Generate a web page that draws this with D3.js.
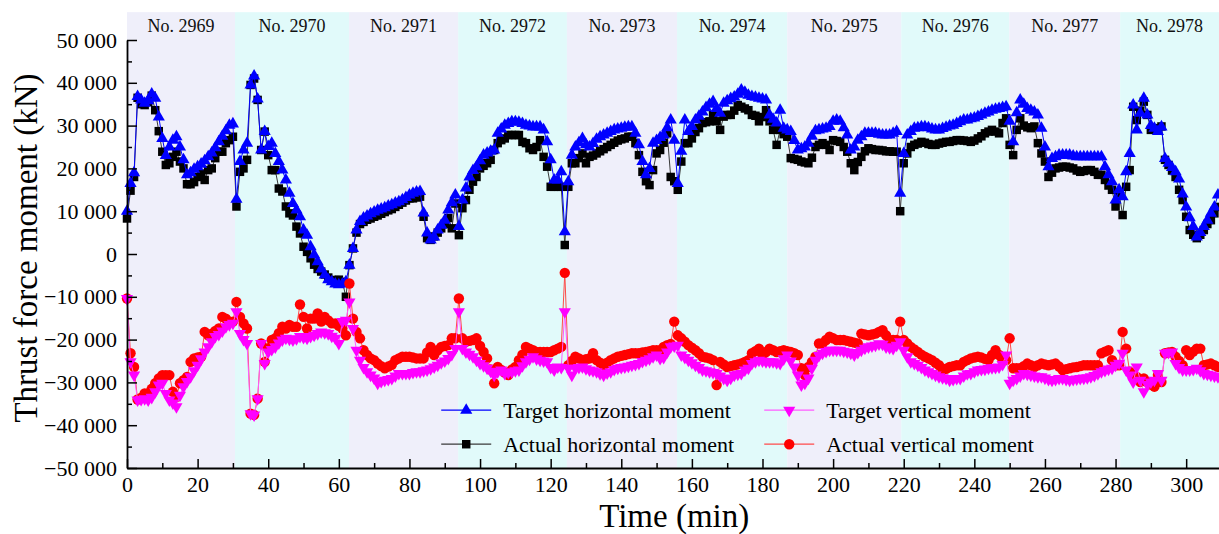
<!DOCTYPE html>
<html>
<head>
<meta charset="utf-8">
<script src="https://cdn.jsdelivr.net/npm/d3@7"></script>
<style>
    body { margin: 0; background: #fff; }
    svg { display: block; font-family: "Liberation Serif", "Times New Roman", serif; }
</style>
</head>
<body>
<div id="chart"></div>
<script>
// Ring numbers and where each ring starts (min)
const ringLabels = ['No. 2969', 'No. 2970', 'No. 2971', 'No. 2972', 'No. 2973', 'No. 2974', 'No. 2975', 'No. 2976', 'No. 2977', 'No. 2978'];
const ringStarts = [0, 30.6, 62.9, 93.8, 124.6, 155.8, 187, 219.3, 249.9, 281.3];
const timeEnd = 309.3;

// One sample per minute, starting at 0 min (kN)
const targetHorizontal = [
    10000, 16500, 19000, 36800, 36000, 35200, 35800, 37400, 36400, 32000,
    27000, 23000, 25000, 26600, 27400, 25000, 22000, 18500, 19000, 19800,
    20400, 21000, 21800, 22700, 23600, 24800, 26200, 27500, 28800, 30100,
    30400, 12800, 21600, 24300, 25900, 39500, 41600, 36200, 24300, 28600,
    25100, 25900, 23500, 21600, 19600, 17300, 14200, 11800, 10300, 8700,
    5600, 4400, 1700, -200, -1800, -3500, -4900, -6000, -6500, -7000,
    -7200, -7000, -6500, -2600, 1300, 5600, 7600, 8400, 8900, 9400,
    9800, 10200, 10500, 10800, 11200, 11500, 11900, 12200, 12700, 13200,
    13800, 14200, 14500, 14600, 9600, 4900, 3300, 4000, 5600, 6700,
    7900, 10300, 12000, 13800, 6400, 12600, 15400, 18000, 19500, 20400,
    21800, 23100, 23600, 24000, 24300, 28200, 29200, 30100, 30500, 30900,
    30900, 30800, 30500, 30100, 29900, 29700, 29700, 29700, 29000, 26200,
    22000, 17300, 17300, 19200, 5200, 16900, 23100, 25000, 26000, 27000,
    25500, 25000, 25800, 26800, 27400, 27800, 28200, 28600, 29000, 29200,
    29400, 29600, 29700, 29700, 28200, 25500, 21600, 18500, 20000, 25900,
    26500, 27200, 27800, 29500, 31300, 26600, 16500, 24000, 31300, 28600,
    29800, 31300, 32200, 33200, 34200, 35000, 35600, 34000, 32900, 35200,
    35800, 36300, 36700, 37300, 38300, 37800, 37100, 36800, 36600, 36400,
    36200, 36000, 32500, 31500, 30600, 33600, 29400, 29000, 28600, 26500,
    24300, 24600, 25000, 25900, 27500, 28800, 29000, 29200, 29400, 29800,
    31000, 31300, 31000, 29500, 27800, 24300, 25000, 26600, 27400, 28200,
    28200, 28200, 28200, 28000, 27800, 27800, 27800, 28200, 28600, 14200,
    23500, 27800, 28600, 29400, 29500, 29700, 29700, 29500, 29200, 29000,
    29000, 29300, 29600, 29900, 30100, 30500, 30900, 31300, 31300, 31600,
    31800, 32100, 32500, 32900, 33200, 33600, 33800, 34000, 34200, 34400,
    31000, 26200, 33000, 36000, 35000, 34000, 33600, 33200, 32500, 29400,
    25000, 20400, 22300, 22700, 23100, 23100, 23100, 23100, 22900, 22700,
    22700, 22700, 22700, 22700, 22700, 22700, 22700, 20400, 18500, 16900,
    12600, 15000, 13400, 19200, 23500, 34800, 29000, 32900, 36400, 32500,
    30000, 29400, 28600, 29700, 22300, 21200, 20200, 19200, 17500, 14000,
    11000, 8500, 6400, 4000, 5000, 6400, 7900, 9500, 11000, 13800
];

const actualHorizontal = [
    8300, 14800, 18000, 36500, 35000, 34800, 35500, 37000, 33600, 28700,
    23900, 20800, 21200, 22700, 23900, 21600, 20000, 16300, 16300, 16800,
    18000, 18800, 17300, 19600, 20000, 22400, 23900, 23900, 25900, 26600,
    27400, 11100, 19200, 20000, 22000, 39500, 41000, 36000, 24300, 28600,
    23100, 19600, 19600, 15300, 14600, 11100, 9500, 9000, 6400, 4800,
    1700, 500, -1000, -2500, -3500, -4100, -4800, -5500, -6100, -6100,
    -6000, -6500, -10000, -2600, 1300, 5000, 7000, 7500, 8000, 8300,
    8700, 9000, 9400, 9800, 10200, 10500, 11000, 11500, 12000, 12500,
    13000, 13000, 13200, 13400, 8700, 3700, 3300, 4100, 5000, 6000,
    7000, 8400, 6000, 11800, 4400, 10700, 12600, 15000, 16900, 18000,
    20000, 20600, 21200, 22000, 24300, 25900, 26600, 27000, 27800, 27800,
    27800, 27800, 26200, 25900, 24700, 24300, 25000, 26600, 22700, 20400,
    15700, 15700, 15700, 15700, 2100, 15700, 21200, 21200, 22400, 23500,
    21200, 22700, 23000, 23500, 24000, 24500, 25000, 25500, 26000, 26500,
    26800, 27000, 27400, 27400, 25900, 23100, 19200, 17000, 16100, 19600,
    23500, 24300, 26000, 28200, 18000, 17000, 15000, 21600, 25900, 25900,
    27000, 28500, 29400, 30600, 30800, 31000, 32500, 31000, 29000, 32100,
    32500, 32500, 33500, 34800, 34400, 34000, 33600, 32500, 32300, 31000,
    32000, 33600, 31000, 29000, 25500, 29000, 28000, 27400, 22400, 22200,
    22000, 21600, 21400, 21200, 22500, 25000, 25500, 25900, 25500, 24300,
    26600, 26400, 26200, 25000, 23900, 21200, 19600, 21500, 22700, 24000,
    24700, 24500, 24300, 24300, 24200, 24000, 24000, 23900, 23900, 10000,
    21200, 23500, 25000, 25500, 25800, 26200, 26000, 25700, 25500, 25500,
    25800, 26000, 26200, 26200, 26400, 26600, 26600, 26500, 26400, 26200,
    26500, 27000, 27500, 28200, 28600, 29000, 28600, 28200, 30600, 31700,
    25500, 23100, 29000, 31700, 30000, 29600, 29400, 29800, 25900, 23500,
    21600, 18000, 19000, 20000, 20200, 20400, 20400, 20200, 20000, 19500,
    19200, 19400, 19600, 19600, 19200, 18500, 18500, 17300, 16000, 15000,
    11100, 14200, 9100, 15700, 19600, 34400, 31300, 33500, 35600, 32500,
    29000, 29200, 29400, 29800, 22000, 20800, 19500, 18000, 15000, 12600,
    8700, 5600, 4500, 3700, 4500, 5600, 7000, 7900, 9500, 11000
];

const targetVertical = [
    -10400, -25200, -28300, -34100, -34000, -33800, -34100, -33500, -32200, -30600,
    -30200, -32600, -34100, -34800, -35700, -33000, -31000, -29800, -28700, -27300,
    -26000, -24500, -22900, -21700, -20500, -19300, -18800, -18000, -17000, -16500,
    -16200, -13500, -18600, -20000, -20900, -37300, -37600, -33800, -20900, -25600,
    -22900, -22300, -21700, -20800, -20100, -19700, -19900, -20100, -19800, -19300,
    -19500, -19700, -19300, -19000, -18600, -18200, -18400, -18600, -19200, -19700,
    -20900, -15800, -15500, -11200, -17400, -22500, -24800, -26500, -27500, -28300,
    -29000, -30200, -29800, -29500, -29300, -29100, -28500, -27900, -27900, -27900,
    -27900, -27700, -27500, -27500, -27300, -27100, -26800, -26400, -26000, -25400,
    -25000, -24400, -23500, -22100, -13500, -22100, -22900, -23400, -24000, -24800,
    -25600, -26100, -26700, -27400, -28300, -27500, -27100, -27900, -27700, -27500,
    -27300, -27100, -26100, -25200, -24600, -24000, -24500, -24800, -25000, -25200,
    -26500, -27100, -26400, -26500, -13500, -26700, -28300, -26700, -26500, -26400,
    -26800, -27100, -27300, -27500, -28000, -28300, -27800, -27500, -27000, -26700,
    -26500, -26400, -26200, -26000, -25800, -25600, -25100, -24800, -24500, -24000,
    -23600, -24400, -24200, -22900, -21700, -21500, -21300, -23600, -24200, -24800,
    -25400, -26000, -26500, -27100, -27300, -27500, -27700, -27900, -28500, -29100,
    -29500, -29000, -28300, -28100, -27900, -27100, -26700, -25600, -25200, -24800,
    -25000, -25200, -25200, -25200, -25400, -25600, -24500, -23600, -25000, -26400,
    -28300, -30600, -30200, -29000, -26700, -24800, -23700, -23200, -22800, -22500,
    -22500, -22500, -22500, -22700, -22900, -23200, -23600, -23000, -22500, -22000,
    -21700, -21500, -21300, -21000, -21100, -21700, -21900, -22100, -21300, -20500,
    -22500, -24000, -25200, -25600, -26000, -26500, -27100, -27500, -27900, -28300,
    -28700, -28900, -29100, -29500, -29300, -29100, -29100, -28500, -28000, -27900,
    -27500, -27100, -27000, -26900, -26700, -26600, -26500, -26400, -25800, -23600,
    -30200, -29500, -29100, -28500, -27900, -28100, -28300, -28500, -28700, -28700,
    -29000, -29300, -29500, -29300, -29100, -29100, -29300, -29500, -29300, -29200,
    -29100, -29000, -28900, -28700, -28400, -28000, -27500, -27200, -26900, -26700,
    -26000, -25500, -23200, -27100, -28300, -29900, -26400, -29500, -32200, -30500,
    -29900, -29500, -27900, -29500, -23200, -23000, -22900, -25600, -26500, -27100,
    -27100, -27100, -27000, -26700, -27300, -27900, -28100, -28300, -28500, -28700
];

const actualVertical = [
    -10400, -23200, -26400, -34000, -33600, -32600, -32600, -31500, -30200, -29100,
    -28300, -28300, -28300, -32200, -33400, -30200, -29500, -28700, -25200, -24400,
    -24200, -24000, -18200, -19000, -18600, -18000, -17400, -14700, -15100, -15800,
    -15800, -11200, -14700, -16200, -17400, -37300, -37600, -33800, -20900, -25200,
    -22000, -20100, -19700, -18500, -17000, -17400, -16600, -17000, -17000, -11800,
    -14700, -17400, -15100, -15100, -13900, -15800, -14700, -15500, -16200, -16200,
    -16800, -17400, -19000, -6900, -15100, -18200, -19700, -22500, -23600, -24400,
    -24800, -25600, -26200, -26700, -26300, -25900, -24800, -24400, -24000, -24000,
    -24000, -24200, -24400, -24400, -24400, -23000, -21700, -23600, -22500, -21700,
    -21500, -21300, -19700, -19700, -10400, -19700, -20500, -20300, -20100, -19700,
    -21500, -22900, -24400, -27000, -30200, -26400, -27100, -27700, -28300, -27000,
    -26400, -24800, -23500, -21700, -22100, -22500, -22900, -22900, -22900, -22900,
    -22900, -22500, -22100, -21700, -4400, -26000, -25000, -24000, -24400, -24800,
    -24600, -24400, -23200, -24800, -25400, -26000, -25400, -24800, -24400, -24000,
    -23800, -23600, -23400, -23200, -23200, -23200, -23000, -22900, -22700, -22500,
    -22500, -22500, -21700, -21300, -21000, -15800, -19000, -19700, -20500, -21300,
    -21900, -22500, -23200, -24000, -24200, -24400, -24800, -30600, -25200, -25800,
    -26400, -26200, -26000, -25800, -25600, -25200, -24800, -23200, -22700, -22100,
    -23600, -22900, -22100, -22500, -22900, -22700, -22500, -22700, -22900, -23200,
    -23600, -26700, -28300, -26400, -25200, -24000, -20900, -20900, -20100, -19300,
    -19700, -20100, -20100, -20100, -20300, -20500, -20700, -20900, -18600, -18800,
    -19000, -18800, -18600, -18200, -17800, -19000, -20100, -20100, -20100, -15800,
    -20100, -20900, -21700, -22300, -22900, -23500, -24000, -24400, -24800, -25400,
    -26000, -27100, -26800, -26400, -26200, -26000, -26000, -25200, -24800, -24400,
    -24200, -24000, -24200, -24500, -24800, -23600, -22500, -23600, -24800, -24800,
    -19700, -26700, -26700, -26700, -26200, -25600, -26000, -26400, -26000, -25600,
    -25800, -26000, -25800, -25600, -26300, -27100, -26900, -26700, -26500, -26400,
    -26200, -26000, -26000, -26000, -26000, -26000, -23200, -22800, -22500, -24800,
    -26000, -26000, -18200, -22100, -27500, -28200, -28700, -29900, -29100, -29900,
    -30500, -31000, -28300, -29900, -23200, -23000, -22900, -24000, -25000, -26000,
    -22500, -23600, -22800, -22100, -22100, -26000, -25800, -25600, -26000, -26400
];

const yTicks = [-50000, -40000, -30000, -20000, -10000, 0, 10000, 20000, 30000, 40000, 50000];
const xTicks = [0, 20, 40, 60, 80, 100, 120, 140, 160, 180, 200, 220, 240, 260, 280, 300];

function drawChart(container) {
    const width = 1219;
    const height = 534;
    const margin = { top: 40, right: 0, bottom: 66, left: 127 };

    const svg = d3.select(container).append('svg')
        .attr('width', width)
        .attr('height', height);

    const x = d3.scaleLinear()
        .domain([0, timeEnd])
        .range([margin.left, width - margin.right]);
    const y = d3.scaleLinear()
        .domain([-50000, 50000])
        .range([height - margin.bottom, margin.top]);

    // Shaded band per ring, alternating lavender / cyan
    const bandTop = 56500;
    const rings = ringLabels.map((name, i) => ({
        name: name,
        start: ringStarts[i],
        end: i < ringStarts.length - 1 ? ringStarts[i + 1] : timeEnd
    }));

    svg.append('g').selectAll('rect')
        .data(rings)
        .enter().append('rect')
        .attr('x', d => x(d.start))
        .attr('width', d => x(d.end) - x(d.start))
        .attr('y', y(bandTop))
        .attr('height', y(-50000) - y(bandTop))
        .style('fill', (d, i) => i % 2 === 0 ? '#efeffa' : '#e1fafa');

    svg.append('g').selectAll('text')
        .data(rings)
        .enter().append('text')
        .attr('x', d => (x(d.start) + x(d.end)) / 2)
        .attr('y', y(bandTop) + 20)
        .attr('text-anchor', 'middle')
        .style('font-size', '18px')
        .style('fill', '#111')
        .text(d => d.name);

    // Series: actual drawn first so target markers sit on top
    const series = [
        { name: 'Actual horizontal moment', values: actualHorizontal, color: '#000000', line: '#3a3a3a', symbol: d3.symbolSquare, size: 72, rotate: 0 },
        { name: 'Target horizontal moment', values: targetHorizontal, color: '#0000ff', line: '#0000ff', symbol: d3.symbolTriangle, size: 64, rotate: 0 },
        { name: 'Actual vertical moment', values: actualVertical, color: '#ff0000', line: '#ff4a4a', symbol: d3.symbolCircle, size: 85, rotate: 0 },
        { name: 'Target vertical moment', values: targetVertical, color: '#ff00ff', line: '#ff5cff', symbol: d3.symbolTriangle, size: 64, rotate: 180 }
    ];

    const line = d3.line()
        .x((d, i) => x(i))
        .y(d => y(d));

    series.forEach(s => {
        const g = svg.append('g');
        g.append('path')
            .datum(s.values)
            .attr('d', line)
            .style('fill', 'none')
            .style('stroke', s.line)
            .style('stroke-width', 1);
        g.selectAll('path.marker')
            .data(s.values)
            .enter().append('path')
            .attr('class', 'marker')
            .attr('d', d3.symbol(s.symbol, s.size))
            .attr('transform', (d, i) => `translate(${x(i)},${y(d)}) rotate(${s.rotate})`)
            .style('fill', s.color);
    });

    // Axes with inward ticks, "50 000" style labels
    const locale = d3.formatLocale({ decimal: '.', thousands: '\u00a0', grouping: [3], currency: ['', ''], minus: '\u2212' });
    const fmt = locale.format(',');

    const yAxis = svg.append('g')
        .attr('transform', `translate(${margin.left},0)`)
        .call(d3.axisLeft(y).tickValues(yTicks).tickFormat(fmt).tickSizeInner(-10).tickSizeOuter(0).tickPadding(10));
    svg.append('g')
        .attr('transform', `translate(${margin.left},0)`)
        .call(d3.axisLeft(y).tickValues(yTicks.slice(0, -1).map(v => v + 5000)).tickFormat('').tickSizeInner(-5).tickSizeOuter(0))
        .select('.domain').remove();

    const xAxis = svg.append('g')
        .attr('transform', `translate(0,${height - margin.bottom})`)
        .call(d3.axisBottom(x).tickValues(xTicks).tickFormat(d3.format('d')).tickSizeInner(-9).tickSizeOuter(0).tickPadding(8));
    svg.append('g')
        .attr('transform', `translate(0,${height - margin.bottom})`)
        .call(d3.axisBottom(x).tickValues(xTicks.map(v => v + 10)).tickFormat('').tickSizeInner(-5).tickSizeOuter(0))
        .select('.domain').remove();

    svg.selectAll('.domain').style('stroke', '#000').style('stroke-width', 1.8);
    svg.selectAll('.tick line').style('stroke', '#000').style('stroke-width', 1.5);
    [yAxis, xAxis].forEach(a => a.selectAll('text')
        .style('font-family', '"Liberation Serif", "Times New Roman", serif')
        .style('font-size', '22px')
        .style('fill', '#000'));

    // Axis titles
    svg.append('text')
        .attr('transform', `translate(37,${y(0) - 6}) rotate(-90)`)
        .attr('text-anchor', 'middle')
        .style('font-size', '33px')
        .text('Thrust force moment (kN)');

    svg.append('text')
        .attr('x', x(155))
        .attr('y', height - 7.5)
        .attr('text-anchor', 'middle')
        .style('font-size', '33px')
        .text('Time (min)');

    // Legend in two columns, legend order as in the figure
    const legendData = [series[1], series[0], series[3], series[2]];
    const legend = svg.append('g')
        .attr('transform', `translate(${x(89)},${y(-36500)})`);

    const items = legend.selectAll('g')
        .data(legendData)
        .enter().append('g')
        .attr('transform', (d, i) => `translate(${Math.floor(i / 2) * 323},${(i % 2) * 34})`);

    items.append('line')
        .attr('x1', 0).attr('x2', 50)
        .style('stroke', d => d.line)
        .style('stroke-width', 1.2);
    items.append('path')
        .attr('d', d => d3.symbol(d.symbol, d.size)())
        .attr('transform', d => `translate(25,0) rotate(${d.rotate})`)
        .style('fill', d => d.color);
    items.append('text')
        .attr('x', 62)
        .attr('dy', '0.35em')
        .style('font-size', '22px')
        .text(d => d.name);
}

drawChart('#chart');
</script>
</body>
</html>
